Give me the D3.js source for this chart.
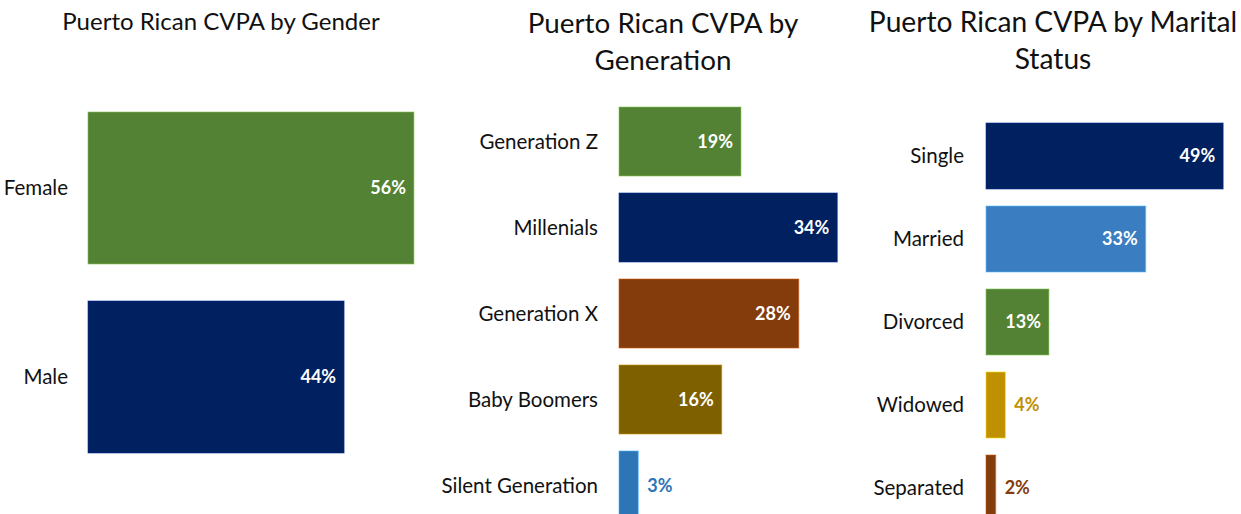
<!DOCTYPE html>
<html>
<head>
<meta charset="utf-8">
<script src="https://cdn.jsdelivr.net/npm/d3@7"></script>
<style>
  body { margin: 0; background: #fff; }
  svg text { font-family: Lato, "Open Sans", sans-serif; }
</style>
</head>
<body>
<div id="chart"></div>
<script>
// data
var genderCats = ["Female", "Male"];
var genderVals = [56, 44];
var genderColors = ["#548235", "#002060"];

var genCats = ["Generation Z", "Millenials", "Generation X", "Baby Boomers", "Silent Generation"];
var genVals = [19, 34, 28, 16, 3];
var genColors = ["#548235", "#002060", "#843c0c", "#7f6000", "#2e75b6"];

var marCats = ["Single", "Married", "Divorced", "Widowed", "Separated"];
var marVals = [49, 33, 13, 4, 2];
var marColors = ["#002060", "#3a7dc0", "#548235", "#bf9000", "#843c0c"];

var W = 1241, H = 514;

var svg = d3.select("#chart").append("svg")
    .attr("width", W)
    .attr("height", H);

// panel layout (x1 = pixel position of 100%)
var panels = [
  {title: ["Puerto Rican CVPA by Gender"], titleX: 221, titleY: 30, titleSize: 24,
   cats: genderCats, vals: genderVals, colors: genderColors,
   x0: 88, x1: 670, top: 112, step: 189, gap: 37, labelX: 68},
  {title: ["Puerto Rican CVPA by", "Generation"], titleX: 663, titleY: 33, titleSize: 27.8,
   cats: genCats, vals: genVals, colors: genColors,
   x0: 619, x1: 1261, top: 107, step: 86, gap: 17, labelX: 598},
  {title: ["Puerto Rican CVPA by Marital", "Status"], titleX: 1053, titleY: 32, titleSize: 28.2,
   cats: marCats, vals: marVals, colors: marColors,
   x0: 986, x1: 1470, top: 123, step: 83, gap: 17, labelX: 964}
];

panels.forEach(function(p) {
    var g = svg.append("g");

    var x = d3.scaleLinear()
        .domain([0, 100])
        .range([p.x0, p.x1]);

    var n = p.cats.length;
    var y = d3.scaleBand()
        .domain(p.cats)
        .range([p.top, p.top + n * p.step - p.gap])
        .paddingInner(p.gap / p.step)
        .paddingOuter(0);

    // title
    g.selectAll(".title")
        .data(p.title)
        .enter()
        .append("text")
        .attr("x", p.titleX)
        .attr("y", function(d, i) { return p.titleY + i * 37; })
        .attr("text-anchor", "middle")
        .style("font-size", p.titleSize + "px")
        .style("fill", "#111")
        .text(function(d) { return d; });

    var rows = p.cats.map(function(c, i) {
        return {cat: c, val: p.vals[i], color: p.colors[i]};
    });

    g.selectAll("rect")
        .data(rows)
        .enter()
        .append("rect")
        .attr("x", x(0))
        .attr("y", function(d) { return y(d.cat); })
        .attr("width", function(d) { return x(d.val) - x(0); })
        .attr("height", y.bandwidth())
        .style("fill", function(d) { return d.color; })
        .style("stroke", function(d) { return d3.color(d.color).brighter(1.2); })
        .style("stroke-width", 1)
        .style("stroke-opacity", 0.6);

    // category labels
    g.selectAll(".cat")
        .data(rows)
        .enter()
        .append("text")
        .attr("x", p.labelX)
        .attr("y", function(d) { return y(d.cat) + y.bandwidth() / 2; })
        .attr("dy", "0.35em")
        .attr("text-anchor", "end")
        .style("font-size", "20.5px")
        .style("fill", "#111")
        .text(function(d) { return d.cat; });

    // value labels: inside when bar is wide, outside otherwise
    g.selectAll(".val")
        .data(rows)
        .enter()
        .append("text")
        .attr("x", function(d) {
            var w = x(d.val) - x(0);
            return w > 50 ? x(d.val) - 8 : x(d.val) + 9;
        })
        .attr("y", function(d) { return y(d.cat) + y.bandwidth() / 2; })
        .attr("dy", "0.35em")
        .attr("text-anchor", function(d) { return (x(d.val) - x(0)) > 50 ? "end" : "start"; })
        .style("font-size", "18px")
        .style("font-weight", "bold")
        .style("fill", function(d) { return (x(d.val) - x(0)) > 50 ? "#fff" : d.color; })
        .text(function(d) { return d.val + "%"; });
});
</script>
</body>
</html>
